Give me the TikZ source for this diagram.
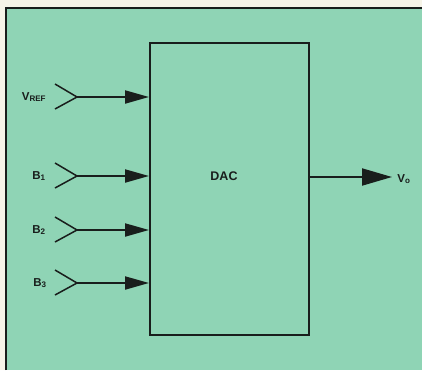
\documentclass[tikz,border=0pt]{standalone}
\usepackage{fontspec}
\setmainfont{Liberation Sans}
\usetikzlibrary{arrows.meta}
\definecolor{bggreen}{RGB}{143,212,181}
\definecolor{paper}{RGB}{246,244,232}
\definecolor{ink}{RGB}{25,30,28}
\tikzset{
  lbl/.style={font=\fontsize{11.5}{13}\selectfont\bfseries, text=ink, inner sep=0pt},
  inarrow/.style={draw=ink, line width=2pt, -{Triangle[length=24pt,width=13pt]}},
  outarrow/.style={draw=ink, line width=2pt, -{Triangle[length=30pt,width=17pt]}},
  chev/.style={draw=ink, line width=1.5pt},
}
\begin{document}
\begin{tikzpicture}[x=1pt,y=-1pt]
\useasboundingbox (0,0) rectangle (422,370);
\fill[paper] (0,0) rectangle (422,370);
\fill[bggreen] (6,8) rectangle (422,370);
\draw[ink, line width=1.6pt] (6,370) -- (6,8) -- (422,8);
\node[draw=ink, line width=2pt, minimum width=159pt, minimum height=292pt, inner sep=0pt, anchor=north west] (dac) at (149,42) {};
\node[lbl, font=\fontsize{12.5}{14}\selectfont\bfseries] (daclbl) at (224,176) {DAC};
% inputs
\foreach \n/\y/\xl/\txt in {vref/97/34/{V\textsubscript{REF}}, b1/176/39/{B\textsubscript{1}}, b2/230/39/{B\textsubscript{2}}, b3/283/40/{B\textsubscript{3}}}{
  \coordinate (\n tip) at (77,\y);
  \coordinate (\n end) at (149,\y);
  \node[lbl] (\n lbl) at (\xl,\y) {\txt};
  \draw[chev] (55,\y-13) -- (\n tip) -- (55,\y+12);
  \draw[inarrow] (\n tip) -- (\n end);
}
\coordinate (vostart) at (308,177);
\coordinate (voend) at (392,177);
\draw[outarrow] (vostart) -- (voend);
\node[lbl] (volbl) at (404,179) {V\textsubscript{o}};
\end{tikzpicture}
\end{document}
